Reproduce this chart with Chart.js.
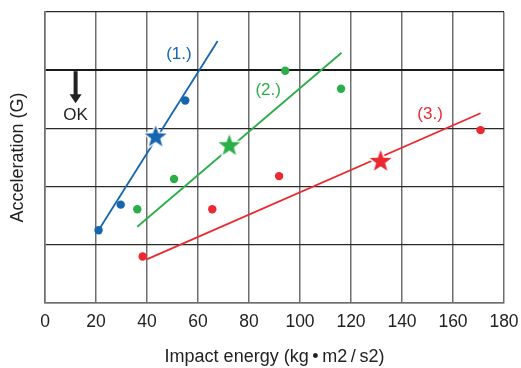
<!DOCTYPE html>
<html lang="en">
<head>
<meta charset="UTF-8">
<title>Impact energy vs acceleration</title>
<script src="https://cdn.jsdelivr.net/npm/chart.js@4"></script>
<style>
  body { margin: 0; background: #fff; }
</style>
</head>
<body>
<canvas id="chart" width="521" height="368"></canvas>
<script>
// series 1 (blue)
const blueDots = [[21.0, 1.25], [29.7, 1.69], [55.0, 3.48]];
const blueStar = [[43.4, 2.86]];
const blueLine = [[21.0, 1.25], [67.7, 4.50]];
// series 2 (green)
const greenDots = [[36.2, 1.61], [50.6, 2.13], [94.2, 3.99], [116.1, 3.68]];
const greenStar = [[72.3, 2.71]];
const greenLine = [[36.2, 1.31], [116.3, 4.30]];
// series 3 (red)
const redDots = [[38.3, 0.80], [65.6, 1.61], [91.8, 2.18], [170.8, 2.97]];
const redStar = [[131.6, 2.44]];
const redLine = [[39.9, 0.75], [170.8, 3.26]];

const xTicks = [0, 20, 40, 60, 80, 100, 120, 140, 160, 180];
const okLevel = 4;

// text labels placed in data units
const labels = [
  { text: '(1.)', x: 52.5, y: 4.27, color: '#1565b0' },
  { text: '(2.)', x: 87.5, y: 3.65, color: '#2bae4a' },
  { text: '(3.)', x: 151, y: 3.24, color: '#ec2830' },
  { text: 'OK', x: 12.0, y: 3.22, color: '#222' }
];

const BLUE = '#1565b0', GREEN = '#2bae4a', RED = '#ec2830';
const FONT = '"Liberation Sans", Arial, sans-serif';

function starImage(color) {
  const c = document.createElement('canvas');
  c.width = 28; c.height = 28;
  const g = c.getContext('2d');
  const cx = 14, cy = 14.5, R = 11.5, r = 4.7;
  g.beginPath();
  for (let i = 0; i < 10; i++) {
    const a = -Math.PI / 2 + i * Math.PI / 5;
    const rad = i % 2 === 0 ? R : r;
    g.lineTo(cx + rad * Math.cos(a), cy + rad * Math.sin(a));
  }
  g.closePath();
  g.lineJoin = 'round';
  g.strokeStyle = '#fff';
  g.lineWidth = 3;
  g.stroke();
  g.fillStyle = color;
  g.fill();
  return c;
}

const pts = a => a.map(p => ({ x: p[0], y: p[1] }));

function lineSet(data, color) {
  return { data: pts(data), showLine: true, borderColor: color, borderWidth: 1.8,
           pointRadius: 0, order: 3 };
}
function dotSet(data, color) {
  return { data: pts(data), showLine: false, backgroundColor: color, borderColor: color,
           borderWidth: 0, pointRadius: 4.2, order: 2 };
}
function starSet(data, color) {
  return { data: pts(data), showLine: false, pointStyle: starImage(color), order: 1 };
}

const annotations = {
  id: 'annotations',
  afterDatasetsDraw(chart) {
    const { ctx, scales: { x, y } } = chart;
    ctx.save();
    // OK arrow
    const ax = x.getPixelForValue(12.0);
    const top = y.getPixelForValue(okLevel) + 1;
    const tip = y.getPixelForValue(3.43);
    ctx.fillStyle = '#222';
    ctx.fillRect(ax - 2, top, 4, tip - top - 8);
    ctx.beginPath();
    ctx.moveTo(ax - 6, tip - 9);
    ctx.lineTo(ax + 6, tip - 9);
    ctx.lineTo(ax, tip);
    ctx.closePath();
    ctx.fill();
    ctx.font = '17px ' + FONT;
    ctx.textAlign = 'center';
    ctx.textBaseline = 'middle';
    labels.forEach(l => {
      ctx.fillStyle = l.color;
      ctx.fillText(l.text, x.getPixelForValue(l.x), y.getPixelForValue(l.y));
    });
    ctx.restore();
  }
};

new Chart(document.getElementById('chart'), {
  type: 'scatter',
  data: {
    datasets: [
      lineSet(blueLine, BLUE), lineSet(greenLine, GREEN), lineSet(redLine, RED),
      dotSet(blueDots, BLUE), dotSet(greenDots, GREEN), dotSet(redDots, RED),
      starSet(blueStar, BLUE), starSet(greenStar, GREEN), starSet(redStar, RED)
    ]
  },
  options: {
    responsive: false,
    animation: false,
    layout: { padding: { top: 12, right: 17, left: 0, bottom: 0 } },
    plugins: { legend: { display: false }, tooltip: { enabled: false } },
    scales: {
      x: {
        type: 'linear', min: 0, max: 180,
        afterBuildTicks: s => { s.ticks = xTicks.map(v => ({ value: v })); },
        afterFit: s => { s.height = 65; s.paddingRight = 0; s.paddingLeft = 0; },
        ticks: { padding: 9, color: '#222', font: { family: FONT, size: 17.5 } },
        grid: { color: '#6e6e6e', lineWidth: 1.5, drawTicks: false },
        border: { color: '#6e6e6e', width: 1.5 },
        title: { display: true, text: 'Impact energy (kg\u2009\u2022\u2009m2\u2009/\u2009s2)', color: '#222',
                 font: { family: FONT, size: 18 }, padding: { top: 0, bottom: 0 } }
      },
      y: {
        type: 'linear', min: 0, max: 5,
        ticks: { display: false, stepSize: 1 },
        afterFit: s => { s.width = 45; },
        grid: {
          color: c => c.tick && c.tick.value === okLevel ? '#1a1a1a' : '#2a2a2a',
          lineWidth: c => c.tick && c.tick.value === okLevel ? 2 : 1.2,
          drawTicks: false
        },
        border: { color: '#6e6e6e', width: 1.5 },
        title: { display: true, text: 'Acceleration (G)', color: '#222',
                 font: { family: FONT, size: 18 }, padding: { top: 7, bottom: 0 } }
      }
    }
  },
  plugins: [annotations]
});
</script>
</body>
</html>
